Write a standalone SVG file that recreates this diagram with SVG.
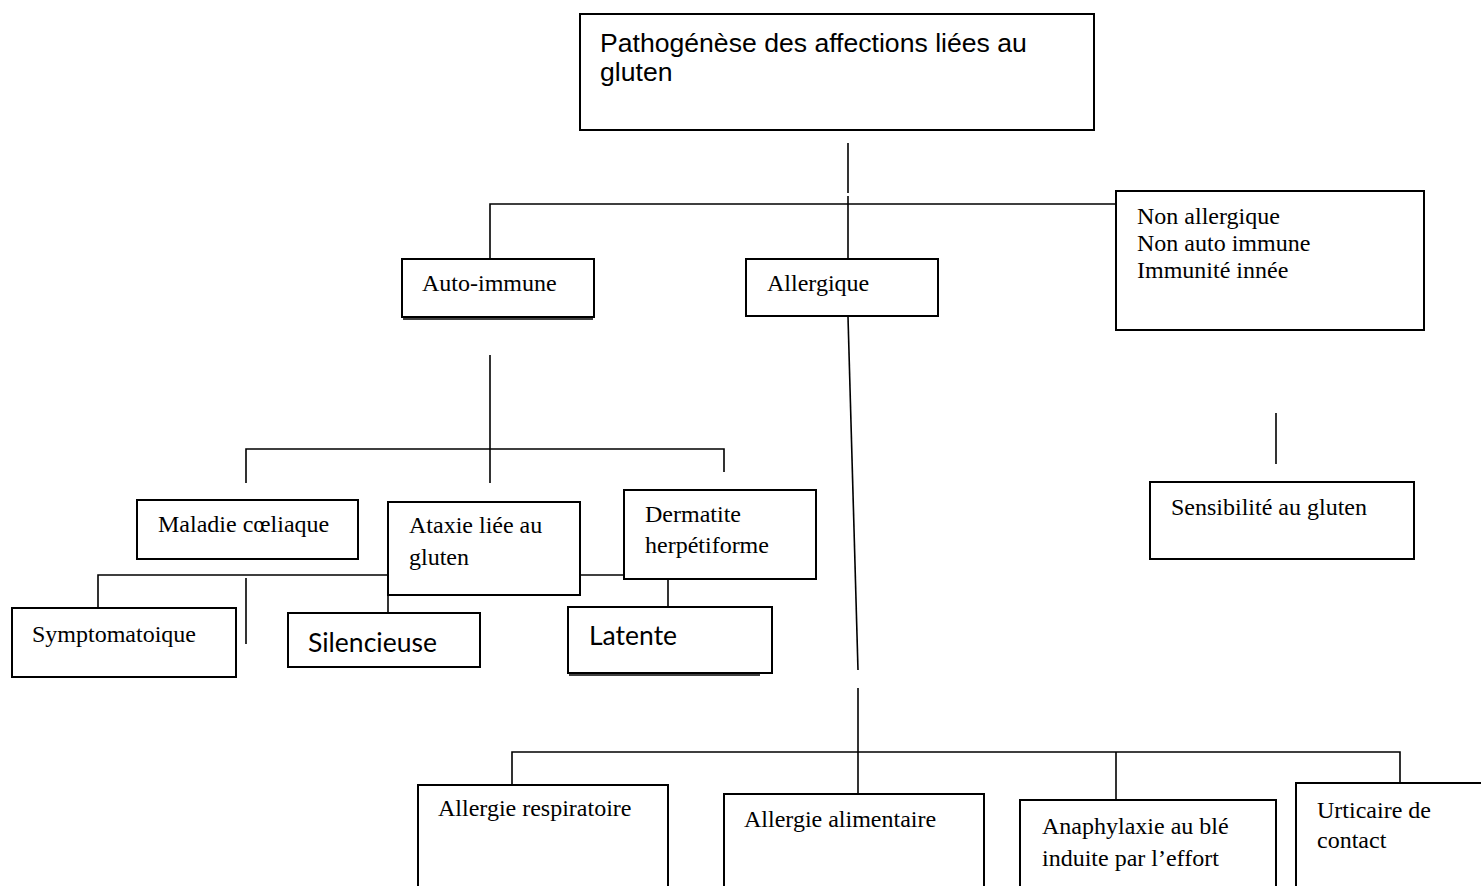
<svg xmlns="http://www.w3.org/2000/svg" width="1481" height="886" viewBox="0 0 1481 886">
<style>
.box{fill:#fff;stroke:#000;stroke-width:2}
.ln{fill:none;stroke:#000;stroke-width:1.6}
.t{font-family:"Liberation Serif","Times New Roman",serif;font-size:24px;fill:#000}
.s{font-family:"Liberation Sans",Arial,sans-serif;font-size:26.6px;fill:#000}
.c{font-family:Lato,"Open Sans",sans-serif;font-size:26.5px;fill:#000}
</style>
<rect width="1481" height="886" fill="#fff"/>
<g id="connectors">
<line class="ln" x1="848" y1="143" x2="848" y2="193"/>
<line class="ln" x1="848" y1="196" x2="848" y2="259"/>
<polyline class="ln" points="490,259 490,204 1116,204"/>
<line class="ln" x1="848" y1="317" x2="858" y2="670"/>
<line class="ln" x1="1276" y1="413" x2="1276" y2="464"/>
<line class="ln" x1="490" y1="355" x2="490" y2="483"/>
<polyline class="ln" points="246,483 246,449 724,449 724,472"/>
<polyline class="ln" points="98,607 98,575 388,575"/>
<line class="ln" x1="246" y1="578" x2="246" y2="644"/>
<line class="ln" x1="388" y1="595" x2="388" y2="613"/>
<line class="ln" x1="580" y1="575" x2="624" y2="575"/>
<line class="ln" x1="668" y1="579" x2="668" y2="607"/>
<line class="ln" x1="858" y1="688" x2="858" y2="794"/>
<polyline class="ln" points="512,785 512,752 1400,752 1400,783"/>
<line class="ln" x1="1116" y1="752" x2="1116" y2="800"/>
</g>
<g id="n-pathogenese">
<rect class="box" x="580" y="14" width="514" height="116"/>
<text class="s" x="600" y="52">Pathogénèse des affections liées au</text>
<text class="s" x="600" y="81">gluten</text>
</g>
<g id="n-autoimmune">
<rect class="box" x="402" y="259" width="192" height="58"/>
<line class="ln" x1="403" y1="319" x2="593" y2="319"/>
<text class="t" x="422" y="291">Auto-immune</text>
</g>
<g id="n-allergique">
<rect class="box" x="746" y="259" width="192" height="57"/>
<text class="t" x="767" y="291">Allergique</text>
</g>
<g id="n-nonallergique">
<rect class="box" x="1116" y="191" width="308" height="139"/>
<text class="t" x="1137" y="224">Non allergique</text>
<text class="t" x="1137" y="251">Non auto immune</text>
<text class="t" x="1137" y="278">Immunité innée</text>
</g>
<g id="n-sensibilite">
<rect class="box" x="1150" y="482" width="264" height="77"/>
<text class="t" x="1171" y="515">Sensibilité au gluten</text>
</g>
<g id="n-maladie">
<rect class="box" x="137" y="500" width="221" height="59"/>
<text class="t" x="158" y="532">Maladie cœliaque</text>
</g>
<g id="n-ataxie">
<rect class="box" x="388" y="502" width="192" height="93"/>
<text class="t" x="409" y="533">Ataxie liée au</text>
<text class="t" x="409" y="565">gluten</text>
</g>
<g id="n-dermatite">
<rect class="box" x="624" y="490" width="192" height="89"/>
<text class="t" x="645" y="522">Dermatite</text>
<text class="t" x="645" y="553">herpétiforme</text>
</g>
<g id="n-symptomatoique">
<rect class="box" x="12" y="608" width="224" height="69"/>
<text class="t" x="32" y="642">Symptomatoique</text>
</g>
<g id="n-silencieuse">
<rect class="box" x="288" y="613" width="192" height="54"/>
<text class="c" x="308" y="652">Silencieuse</text>
</g>
<g id="n-latente">
<rect class="box" x="568" y="607" width="204" height="66"/>
<line class="ln" x1="569" y1="675" x2="760" y2="675"/>
<text class="c" x="589" y="645">Latente</text>
</g>
<g id="n-respiratoire">
<rect class="box" x="418" y="785" width="250" height="120"/>
<text class="t" x="438" y="816">Allergie respiratoire</text>
</g>
<g id="n-alimentaire">
<rect class="box" x="724" y="794" width="260" height="120"/>
<text class="t" x="744" y="827">Allergie alimentaire</text>
</g>
<g id="n-anaphylaxie">
<rect class="box" x="1020" y="800" width="256" height="120"/>
<text class="t" x="1042" y="834">Anaphylaxie au blé</text>
<text class="t" x="1042" y="866">induite par l’effort</text>
</g>
<g id="n-urticaire">
<rect class="box" x="1296" y="783" width="200" height="120"/>
<text class="t" x="1317" y="818">Urticaire de</text>
<text class="t" x="1317" y="848">contact</text>
</g>
</svg>
